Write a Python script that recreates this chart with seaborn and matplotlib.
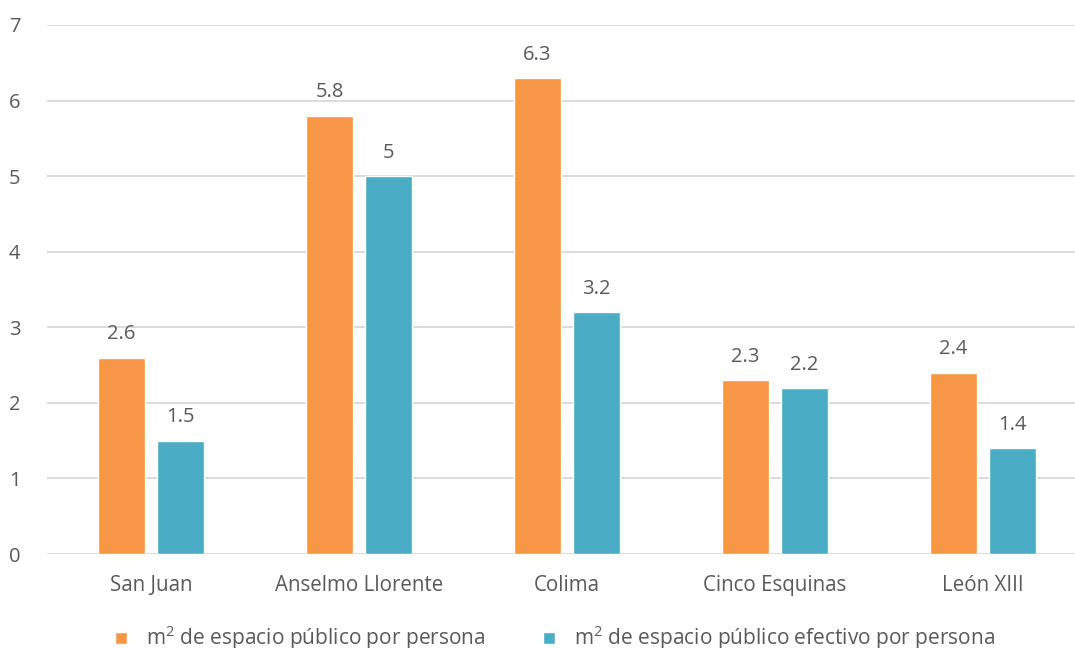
import matplotlib
matplotlib.use("Agg")
import matplotlib.pyplot as plt
import seaborn as sns
import pandas as pd

categories = ["San Juan", "Anselmo Llorente", "Colima", "Cinco Esquinas", "León XIII"]
series_names = ["m$^2$ de espacio público por persona",
                "m$^2$ de espacio público efectivo por persona"]
values_total = [2.6, 5.8, 6.3, 2.3, 2.4]
values_efectivo = [1.5, 5.0, 3.2, 2.2, 1.4]
label_total = ["2.6", "5.8", "6.3", "2.3", "2.4"]
label_efectivo = ["1.5", "5", "3.2", "2.2", "1.4"]
colors = ["#F79646", "#4BACC6"]

df = pd.DataFrame({
    "cat": categories * 2,
    "serie": [series_names[0]] * 5 + [series_names[1]] * 5,
    "val": values_total + values_efectivo,
})

sns.set_theme(style="white")
plt.rcParams["font.family"] = ["Open Sans", "DejaVu Sans"]
plt.rcParams["mathtext.fontset"] = "custom"
plt.rcParams["mathtext.rm"] = "Open Sans"
plt.rcParams["mathtext.it"] = "Open Sans"
plt.rcParams["mathtext.default"] = "regular"
gray = "#595959"

fig = plt.figure(figsize=(10.75, 6.48), dpi=100)
ax = fig.add_axes([47 / 1075, (648 - 554) / 648, 1040 / 1075, 529 / 648])

sns.barplot(data=df, x="cat", y="val", hue="serie", order=categories,
            hue_order=series_names, palette=colors, width=0.567, gap=0.2,
            saturation=1, ax=ax, legend=True)

for cont, labs in zip(ax.containers, [label_total, label_efectivo]):
    ax.bar_label(cont, labels=labs, padding=9.5, color=gray, fontsize=14.5)

ax.set_ylim(0, 7)
ax.set_xlim(-0.5, 4.5)
ax.set_yticks(range(0, 8))
ax.yaxis.grid(True, color="#D9D9D9", linewidth=1.3)
ax.set_axisbelow(True)
for s in ax.spines.values():
    s.set_visible(False)
ax.set_xlabel("")
ax.set_ylabel("")
ax.tick_params(axis="x", length=0, pad=15, labelsize=14.8, labelcolor=gray)
ax.tick_params(axis="y", length=0, pad=19, labelsize=14.5, labelcolor=gray)

leg = ax.legend(loc="center", bbox_to_anchor=(555 / 1075, 1 - 638 / 648),
                bbox_transform=fig.transFigure, ncol=2, frameon=False,
                fontsize=15, labelcolor=gray, handlelength=0.55, handleheight=0.55,
                handletextpad=0.9, columnspacing=2.8)

fig.savefig("out.png", dpi=100)
